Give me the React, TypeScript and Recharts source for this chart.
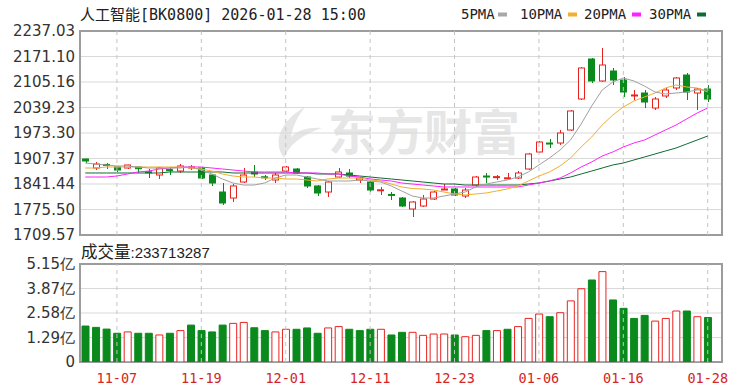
import React from 'react';
import * as R from 'recharts';
import {
  ComposedChart,
  Bar,
  Line,
  XAxis,
  YAxis,
  CartesianGrid,
  ReferenceLine,
  Cell,
} from 'recharts';

const RED = '#e8231f';
const GREEN = '#0a8a1c';

const dates = [
  '11-04', '11-05', '11-06', '11-07', '11-10', '11-11', '11-12', '11-13', '11-14', '11-17',
  '11-18', '11-19', '11-20', '11-21', '11-24', '11-25', '11-26', '11-27', '11-28', '12-01',
  '12-02', '12-03', '12-04', '12-05', '12-08', '12-09', '12-10', '12-11', '12-12', '12-15',
  '12-16', '12-17', '12-18', '12-19', '12-22', '12-23', '12-24', '12-25', '12-26', '12-29',
  '12-30', '12-31', '01-05', '01-06', '01-07', '01-08', '01-09', '01-12', '01-13', '01-14',
  '01-15', '01-16', '01-19', '01-20', '01-21', '01-22', '01-23', '01-26', '01-27', '01-28',
];

const opens = [
  1906.1, 1882.8, 1892.0, 1885.4, 1882.8, 1885.4, 1873.0, 1864.7, 1878.5, 1875.0,
  1884.5, 1882.8, 1864.7, 1820.7, 1805.2, 1846.6, 1872.5, 1860.0, 1851.8, 1875.0,
  1880.2, 1859.5, 1836.3, 1820.7, 1859.5, 1869.9, 1851.8, 1846.6, 1824.0, 1814.5,
  1805.2, 1776.8, 1784.5, 1802.6, 1827.0, 1828.5, 1810.4, 1838.8, 1862.1, 1858.5,
  1856.0, 1856.9, 1880.2, 1924.2, 1947.4, 1947.4, 1981.0, 2061.2, 2164.6, 2107.8,
  2133.6, 2110.3, 2070.5, 2076.7, 2037.9, 2069.0, 2089.7, 2123.2, 2076.7, 2087.1,
];
const highs = [
  1907.0, 1898.3, 1895.7, 1886.5, 1891.5, 1886.0, 1880.2, 1885.4, 1885.4, 1893.1,
  1890.6, 1885.4, 1867.3, 1844.0, 1841.4, 1882.8, 1890.6, 1864.7, 1869.9, 1888.0,
  1882.8, 1862.1, 1838.8, 1849.2, 1882.8, 1880.2, 1859.5, 1849.2, 1833.7, 1820.7,
  1807.8, 1797.5, 1813.0, 1823.3, 1841.4, 1831.1, 1831.1, 1862.1, 1869.9, 1864.7,
  1869.9, 1875.0, 1921.6, 1952.6, 1957.8, 1981.0, 2032.8, 2144.0, 2167.2, 2193.1,
  2141.4, 2118.1, 2084.5, 2084.5, 2066.4, 2089.7, 2118.1, 2128.4, 2089.7, 2097.4,
];
const lows = [
  1895.7, 1877.6, 1880.2, 1872.5, 1880.2, 1869.9, 1856.9, 1854.4, 1864.7, 1869.9,
  1877.6, 1854.4, 1836.3, 1787.1, 1794.9, 1844.0, 1859.5, 1851.8, 1844.0, 1872.5,
  1867.3, 1831.1, 1810.4, 1807.8, 1856.9, 1856.9, 1844.0, 1820.7, 1813.0, 1800.0,
  1781.9, 1756.1, 1781.9, 1800.0, 1826.0, 1810.4, 1805.2, 1836.3, 1844.0, 1851.8,
  1855.5, 1854.4, 1877.6, 1921.6, 1934.5, 1942.3, 1978.4, 2058.6, 2102.6, 2105.2,
  2097.4, 2066.4, 2058.6, 2037.9, 2032.8, 2063.8, 2084.5, 2058.6, 2032.8, 2053.4,
];
const closes = [
  1900.9, 1893.1, 1891.5, 1877.6, 1890.6, 1881.0, 1872.5, 1882.8, 1877.6, 1888.0,
  1885.4, 1856.9, 1844.0, 1792.3, 1836.3, 1864.7, 1867.3, 1859.5, 1864.7, 1885.4,
  1869.9, 1836.3, 1818.2, 1846.6, 1872.5, 1862.1, 1856.9, 1825.9, 1826.5, 1813.0,
  1784.5, 1794.9, 1802.6, 1820.7, 1828.5, 1813.0, 1825.9, 1859.5, 1859.5, 1860.5,
  1857.5, 1869.9, 1919.0, 1950.0, 1944.9, 1973.3, 2030.2, 2141.4, 2107.8, 2149.1,
  2110.3, 2079.3, 2071.6, 2053.4, 2061.2, 2084.5, 2115.5, 2079.3, 2087.1, 2061.2,
];

const ma5 = [
  1895.7, 1893.1, 1890.6, 1888.0, 1888.0, 1885.4, 1882.8, 1882.8, 1882.8, 1882.8,
  1885.4, 1877.6, 1867.3, 1854.4, 1844.0, 1838.8, 1838.8, 1844.0, 1856.9, 1864.7,
  1864.7, 1859.5, 1854.4, 1849.2, 1849.2, 1849.2, 1851.8, 1849.2, 1846.6, 1836.3,
  1823.3, 1810.4, 1805.2, 1805.2, 1810.4, 1815.6, 1820.7, 1833.7, 1841.4, 1846.6,
  1851.8, 1859.5, 1872.5, 1890.6, 1908.7, 1929.3, 1955.2, 1996.6, 2043.1, 2084.5,
  2105.2, 2115.5, 2107.8, 2094.8, 2079.3, 2074.1, 2076.7, 2079.3, 2084.5, 2084.5,
];
const ma10 = [
  1882.8, 1882.8, 1885.4, 1885.4, 1885.4, 1885.4, 1885.4, 1885.4, 1885.4, 1885.4,
  1882.8, 1880.2, 1875.0, 1867.3, 1862.1, 1859.5, 1859.5, 1856.9, 1856.9, 1854.4,
  1854.4, 1851.8, 1849.2, 1854.4, 1856.9, 1856.9, 1856.9, 1851.8, 1849.2, 1841.4,
  1833.7, 1829.8, 1828.5, 1825.9, 1820.7, 1815.6, 1813.0, 1815.6, 1818.2, 1823.3,
  1828.5, 1836.3, 1849.2, 1862.1, 1872.5, 1888.0, 1908.7, 1937.1, 1962.9, 1994.0,
  2019.8, 2040.5, 2056.0, 2066.4, 2076.7, 2089.7, 2097.4, 2092.2, 2089.7, 2079.3,
];
const ma20 = [
  1859.5, 1859.5, 1859.5, 1862.1, 1867.3, 1872.5, 1875.0, 1880.2, 1882.8, 1885.4,
  1885.4, 1885.4, 1882.8, 1880.2, 1877.6, 1875.0, 1872.5, 1872.5, 1872.5, 1872.5,
  1869.9, 1869.9, 1869.9, 1867.3, 1867.3, 1862.1, 1859.5, 1854.4, 1851.8, 1849.2,
  1844.0, 1841.4, 1838.8, 1836.3, 1833.7, 1833.7, 1833.7, 1833.7, 1833.7, 1833.7,
  1833.7, 1833.7, 1838.8, 1844.0, 1849.2, 1856.9, 1869.9, 1885.4, 1898.3, 1913.8,
  1924.2, 1937.1, 1947.4, 1955.2, 1968.1, 1981.1, 1994.0, 2009.5, 2025.0, 2037.9,
];
const ma30 = [
  1869.9, 1869.9, 1869.9, 1869.9, 1869.9, 1869.9, 1869.9, 1869.9, 1872.5, 1872.5,
  1872.5, 1872.5, 1872.5, 1872.5, 1869.9, 1869.9, 1869.9, 1869.9, 1869.9, 1869.9,
  1869.9, 1869.9, 1867.3, 1867.3, 1867.3, 1864.7, 1862.1, 1859.5, 1856.9, 1854.4,
  1851.8, 1849.2, 1846.6, 1844.0, 1841.4, 1841.4, 1838.8, 1838.8, 1838.8, 1838.8,
  1838.8, 1838.8, 1841.4, 1844.0, 1849.2, 1854.4, 1859.5, 1867.3, 1875.0, 1882.8,
  1890.6, 1895.7, 1903.5, 1911.2, 1919.0, 1926.8, 1934.5, 1944.9, 1955.2, 1965.5,
];

// volume in 亿
const volumes = [
  1.89, 1.82, 1.73, 1.51, 1.58, 1.51, 1.51, 1.42, 1.51, 1.65,
  1.94, 1.65, 1.58, 1.94, 2.03, 2.08, 1.80, 1.65, 1.58, 1.72,
  1.72, 1.79, 1.51, 1.79, 1.86, 1.72, 1.65, 1.72, 1.72, 1.42,
  1.56, 1.56, 1.40, 1.47, 1.47, 1.42, 1.33, 1.40, 1.65, 1.65,
  1.72, 1.86, 2.29, 2.52, 2.38, 2.59, 3.21, 3.85, 4.31, 4.75,
  3.26, 2.82, 2.29, 2.45, 2.15, 2.29, 2.68, 2.68, 2.38, 2.34,
];
const volumeUp = [
  0, 0, 0, 0, 1, 0, 0, 1, 0, 1,
  0, 0, 0, 0, 1, 1, 0, 0, 1, 1,
  0, 0, 0, 1, 1, 0, 0, 0, 1, 0,
  0, 1, 1, 1, 1, 0, 1, 1, 0, 1,
  0, 1, 1, 1, 0, 1, 1, 1, 0, 1,
  0, 0, 0, 0, 1, 1, 1, 0, 1, 0,
];

const tickDates = ['11-07', '11-19', '12-01', '12-11', '12-23', '01-06', '01-16', '01-28'];
const priceTicks = [1709.57, 1775.5, 1841.44, 1907.37, 1973.3, 2039.23, 2105.16, 2171.1, 2237.03];
const volTicks = [0, 1.2875, 2.575, 3.8625, 5.15];
const volTickLabels = ['0', '1.29亿', '2.58亿', '3.87亿', '5.15亿'];

const title = '人工智能';
const titleCode = '[BK0800] 2026-01-28 15:00';
const volumeLabel = '成交量';
const volumeValue = ':233713287';
const legendItems = [
  { name: '5PMA', color: '#a8a8a8' },
  { name: '10PMA', color: '#f2ae2e' },
  { name: '20PMA', color: '#ff22ff' },
  { name: '30PMA', color: '#0f6a33' },
];

const data = dates.map((date, i) => ({
  date,
  open: opens[i],
  high: highs[i],
  low: lows[i],
  close: closes[i],
  ma5: ma5[i],
  ma10: ma10[i],
  ma20: ma20[i],
  ma30: ma30[i],
  vol: volumes[i],
  volUp: volumeUp[i],
}));

const CHART_W = 750;
const MARGIN_RIGHT = 28;
const AXIS_W = 80;

const usePA: any = (R as any).usePlotArea;
const useOff: any = (R as any).useOffset;

function Frame({ fallbackTop, fallbackBottom }: { fallbackTop: number; fallbackBottom: number }) {
  let box: { x: number; y: number; w: number; h: number } | null = null;
  if (usePA) {
    const pa = usePA();
    if (pa) box = { x: pa.x, y: pa.y, w: pa.width, h: pa.height };
  } else if (useOff) {
    const o = useOff();
    if (o) box = { x: o.left, y: o.top, w: CHART_W - o.left - o.right, h: fallbackBottom - o.top };
  }
  if (!box) box = { x: AXIS_W, y: fallbackTop, w: CHART_W - AXIS_W - MARGIN_RIGHT, h: fallbackBottom - fallbackTop };
  return (
    <rect x={box.x} y={box.y} width={box.w} height={box.h} fill="none" stroke="#9c9c9c" strokeWidth={2} />
  );
}

function Candle(props: any) {
  const { x, y, width, height, payload } = props;
  if (!payload || x == null) return null;
  const { open, close, high, low } = payload;
  const top = Math.min(y, y + height);
  const h = Math.abs(height);
  const ratio = high - low > 0 ? h / (high - low) : 0;
  const yOf = (v: number) => top + (high - v) * ratio;
  const up = close >= open;
  const color = up ? RED : GREEN;
  const cx = Math.round(x + width / 2) + 0.5;
  const bTop = yOf(Math.max(open, close));
  const bBot = yOf(Math.min(open, close));
  const bh = Math.max(bBot - bTop, 1);
  return (
    <g>
      <line x1={cx} x2={cx} y1={top} y2={top + h} stroke={color} strokeWidth={1} />
      <rect
        x={Math.round(x) + 0.5}
        y={bTop}
        width={Math.round(width) - 1}
        height={bh}
        fill={up ? '#ffffff' : GREEN}
        stroke={color}
        strokeWidth={1}
      />
    </g>
  );
}

const axisFont = { fontFamily: '"DejaVu Sans", sans-serif', fontSize: 15, fill: '#333' };

export default function App() {
  return (
    <div
      style={{
        position: 'absolute',
        left: 0,
        top: 0,
        width: 750,
        height: 391,
        background: '#ffffff',
        overflow: 'hidden',
      }}
    >
      {/* watermark */}
      <svg width={750} height={391} style={{ position: 'absolute', left: 0, top: 0 }}>
        <path
          d="M 305 107 C 283 119 271 140 284 158 C 289 146 299 136 322 128 C 306 127 297 131 291 137 C 293 125 298 116 305 107 Z"
          fill="#e6e6e6"
        />
        <text
          x={328}
          y={150}
          fontFamily='"Noto Sans CJK SC", sans-serif'
          fontWeight="bold"
          fontSize={48}
          fill="#e6e6e6"
        >
          东方财富
        </text>
      </svg>

      <div style={{ position: 'absolute', left: 0, top: 0 }}>
        <ComposedChart width={CHART_W} height={243} data={data} margin={{ top: 31, right: MARGIN_RIGHT, bottom: 8, left: 0 }}>
          <CartesianGrid vertical={false} stroke="#d9d9d9" />
          <XAxis dataKey="date" hide padding={{ left: 0, right: 9 }} />
          <YAxis
            domain={[1709.57, 2237.03]}
            ticks={priceTicks}
            type="number"
            allowDataOverflow
            interval={0}
            width={AXIS_W}
            axisLine={false}
            tickLine={false}
            tickSize={0}
            tickMargin={5}
            tick={axisFont}
            tickFormatter={(v: number) => v.toFixed(2)}
          />
          {tickDates.map((d) => (
            <ReferenceLine key={d} x={d} stroke="#c4c4c4" strokeDasharray="4 4" />
          ))}
          <Line dataKey="ma30" stroke="#0f6a33" strokeWidth={1} dot={false} isAnimationActive={false} />
          <Line dataKey="ma20" stroke="#ff22ff" strokeWidth={1} dot={false} isAnimationActive={false} />
          <Line dataKey="ma10" stroke="#f2ae2e" strokeWidth={1} dot={false} isAnimationActive={false} />
          <Line dataKey="ma5" stroke="#a0a0a0" strokeWidth={1} dot={false} isAnimationActive={false} />
          <Bar
            dataKey={(d: any) => [d.low, d.high]}
            shape={(p: any) => <Candle {...p} />}
            barSize={7}
            isAnimationActive={false}
          />
          <Frame fallbackTop={31} fallbackBottom={235} />
        </ComposedChart>
      </div>

      <div style={{ position: 'absolute', left: 0, top: 236 }}>
        <ComposedChart width={CHART_W} height={155} data={data} margin={{ top: 28, right: MARGIN_RIGHT, bottom: 0, left: 0 }}>
          <CartesianGrid vertical={false} stroke="#d9d9d9" />
          <XAxis
            dataKey="date"
            ticks={tickDates}
            interval={0}
            padding={{ left: 0, right: 9 }}
            height={29}
            axisLine={false}
            tickLine={false}
            tickMargin={5}
            tick={{ fontFamily: '"DejaVu Sans Mono", monospace', fontSize: 13.5, fill: '#d42525' }}
          />
          <YAxis
            domain={[0, 5.15]}
            ticks={volTicks}
            type="number"
            allowDataOverflow
            interval={0}
            width={AXIS_W}
            axisLine={false}
            tickLine={false}
            tickSize={0}
            tickMargin={5}
            tick={axisFont}
            tickFormatter={(v: number) => {
              const idx = volTicks.findIndex((t) => Math.abs(t - v) < 1e-6);
              return idx >= 0 ? volTickLabels[idx] : String(v);
            }}
          />
          {tickDates.map((d) => (
            <ReferenceLine key={d} x={d} stroke="#c4c4c4" strokeDasharray="4 4" />
          ))}
          <Bar dataKey="vol" barSize={7} isAnimationActive={false}>
            {data.map((d, i) => (
              <Cell
                key={i}
                fill={d.volUp ? '#ffffff' : GREEN}
                stroke={d.volUp ? RED : GREEN}
                strokeWidth={1}
              />
            ))}
          </Bar>
          <Frame fallbackTop={28} fallbackBottom={126} />
        </ComposedChart>
      </div>

      {/* header texts */}
      <svg width={750} height={391} style={{ position: 'absolute', left: 0, top: 0, pointerEvents: 'none' }}>
        <text x={80} y={20} fontSize={15} fill="#222">
          <tspan fontFamily='"Noto Sans CJK SC", sans-serif'>{title}</tspan>
          <tspan fontFamily='"DejaVu Sans Mono", monospace'>{titleCode}</tspan>
        </text>
        {legendItems.map((it, i) => {
          const starts = [461, 520, 584, 649];
          const markers = [498, 568, 632, 697];
          return (
            <g key={it.name}>
              <text x={starts[i]} y={19} fontSize={14} fill="#222" fontFamily='"DejaVu Sans Mono", monospace'>
                {it.name}
              </text>
              <rect x={markers[i]} y={12.5} width={9} height={4} fill={it.color} />
            </g>
          );
        })}
        <text x={81} y={258} fill="#222">
          <tspan fontFamily='"Noto Sans CJK SC", sans-serif' fontSize={16.5}>{volumeLabel}</tspan>
          <tspan fontFamily='"Liberation Sans", sans-serif' fontSize={15}>{volumeValue}</tspan>
        </text>
      </svg>
    </div>
  );
}
